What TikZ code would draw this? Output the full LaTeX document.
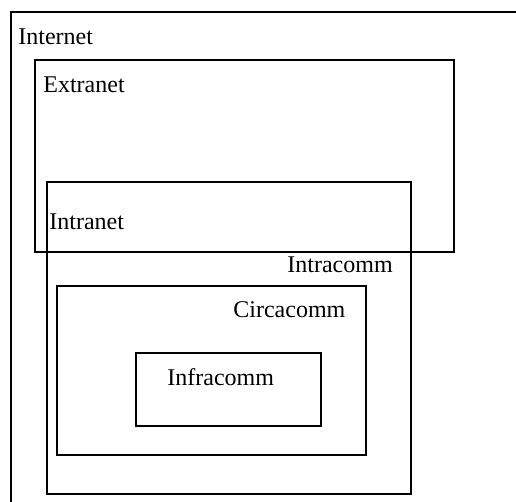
\documentclass[tikz,border=0pt]{standalone}
\usepackage{fontspec}
\setmainfont{Liberation Serif}
\begin{document}
\begin{tikzpicture}[x=0.5pt,y=-0.5pt,
    zone/.style={draw, line width=1pt},
    etiquette/.style={anchor=base west, inner sep=0pt, font=\fontsize{12}{14}\selectfont}]
    % Cadre de l'image
    \clip (0,0) rectangle (516,502);

    % Les zones imbriquees
    \foreach \xa/\ya/\xb/\yb in {11/12/540/530, 35/60/454/252, 47/182/411/494,
                                 57/286/366/455, 136/353/321/426} {
        \draw[zone] (\xa,\ya) rectangle (\xb,\yb);
    }

    % Les noms des zones
    \node[etiquette] (internet) at (18,45) {Internet};
    \node[etiquette] (extranet) at (43,93) {Extranet};
    \node[etiquette] (intranet) at (49,230) {Intranet};
    \node[etiquette] (intracomm) at (287,273) {Intracomm};
    \node[etiquette] (circacomm) at (233,318) {Circacomm};
    \node[etiquette] (infracomm) at (167,386) {Infracomm};
\end{tikzpicture}
\end{document}
